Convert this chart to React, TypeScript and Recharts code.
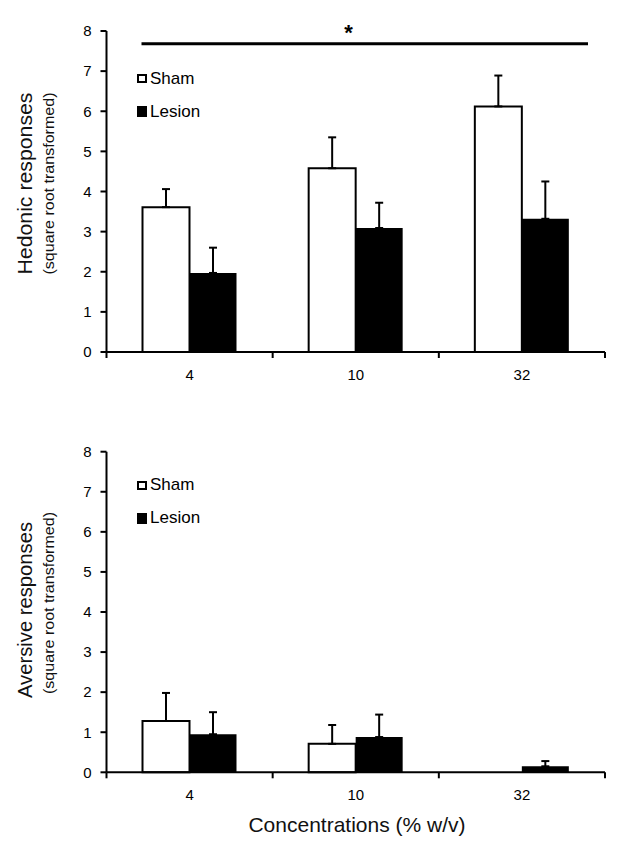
import React from 'react';
import { BarChart, Bar, XAxis, YAxis, ErrorBar, ReferenceLine, Legend } from 'recharts';

const CATEGORIES = ['4', '10', '32'];
const Y_TICKS = [0, 1, 2, 3, 4, 5, 6, 7, 8];
const SERIES_NAMES = ['Sham', 'Lesion'];

const HEDONIC_SHAM = [3.61, 4.58, 6.12];
const HEDONIC_SHAM_SEM = [0.45, 0.77, 0.77];
const HEDONIC_LESION = [1.97, 3.09, 3.32];
const HEDONIC_LESION_SEM = [0.63, 0.63, 0.93];

const AVERSIVE_SHAM = [1.28, 0.71, 0];
const AVERSIVE_SHAM_SEM = [0.7, 0.47, 0];
const AVERSIVE_LESION = [0.95, 0.88, 0.15];
const AVERSIVE_LESION_SEM = [0.55, 0.56, 0.13];

const SIGNIFICANCE_Y = 7.68;
const SIGNIFICANCE_MARK = '*';
const Y_TITLES = ['Hedonic responses', 'Aversive responses'];
const Y_SUBTITLE = '(square root transformed)';
const X_TITLE = 'Concentrations (% w/v)';

const FONT = "'Liberation Sans', Arial, Helvetica, sans-serif";
const W = 618;
const BAND_HALF_FALLBACK = 83;

type Row = { conc: string; sham: number; shamErr: number[]; lesion: number; lesionErr: number[] };

const buildRows = (sham: number[], shamSem: number[], lesion: number[], lesionSem: number[]): Row[] =>
  CATEGORIES.map((c, i) => ({
    conc: c,
    sham: sham[i],
    shamErr: [0, shamSem[i]],
    lesion: lesion[i],
    lesionErr: [0, lesionSem[i]],
  }));

const HEDONIC_ROWS = buildRows(HEDONIC_SHAM, HEDONIC_SHAM_SEM, HEDONIC_LESION, HEDONIC_LESION_SEM);
const AVERSIVE_ROWS = buildRows(AVERSIVE_SHAM, AVERSIVE_SHAM_SEM, AVERSIVE_LESION, AVERSIVE_LESION_SEM);

const ConcTick = (props: any) => {
  const { x, y, payload, index, visibleTicksCount } = props;
  const half = payload && typeof payload.offset === 'number' && payload.offset > 0 ? payload.offset : BAND_HALF_FALLBACK;
  const last = index === (visibleTicksCount ?? CATEGORIES.length) - 1;
  return (
    <g>
      <line x1={x - half} y1={y} x2={x - half} y2={y + 6} stroke="#000" strokeWidth={2} />
      {last && <line x1={x + half} y1={y} x2={x + half} y2={y + 6} stroke="#000" strokeWidth={2} />}
      <text x={x} y={y + 28} textAnchor="middle" fontSize={15} fontFamily={FONT} fill="#000">
        {payload.value}
      </text>
    </g>
  );
};

const LegendContent = () => (
  <div style={{ fontFamily: FONT, fontSize: 17, color: '#000', position: 'relative', width: 90, height: 53 }}>
    <div style={{ position: 'absolute', left: 0, top: 0, height: 20, display: 'flex', alignItems: 'center' }}>
      <span
        style={{
          display: 'inline-block',
          width: 10,
          height: 9,
          border: '2px solid #000',
          boxSizing: 'border-box',
          background: '#fff',
          marginRight: 3,
        }}
      />
      <span>{SERIES_NAMES[0]}</span>
    </div>
    <div style={{ position: 'absolute', left: 0, top: 33, height: 20, display: 'flex', alignItems: 'center' }}>
      <span
        style={{
          display: 'inline-block',
          width: 10,
          height: 11,
          background: '#000',
          marginRight: 3,
        }}
      />
      <span>{SERIES_NAMES[1]}</span>
    </div>
  </div>
);

const SigShape = (props: any) => {
  const { x1, x2, y1 } = props;
  if (typeof x1 !== 'number') return null;
  return (
    <g>
      <line x1={x1 + 35} y1={y1} x2={x2 - 17} y2={y1} stroke="#000" strokeWidth={3} />
      <text x={x1 + 242} y={y1 - 4} textAnchor="middle" fontSize={22} fontWeight="bold" fontFamily={FONT} fill="#000">
        {SIGNIFICANCE_MARK}
      </text>
    </g>
  );
};

type PanelProps = {
  rows: Row[];
  height: number;
  marginTop: number;
  marginBottom: number;
  title: string;
  titleCenter: number;
  titleLength: number;
  subCenter: number;
  legendTop: number;
  significance?: boolean;
  xTitle?: boolean;
};

const Panel = ({
  rows,
  height,
  marginTop,
  marginBottom,
  title,
  titleCenter,
  titleLength,
  subCenter,
  legendTop,
  significance,
  xTitle,
}: PanelProps) => (
  <BarChart
    width={W}
    height={height}
    data={rows}
    margin={{ top: marginTop, right: 13, bottom: marginBottom, left: 0 }}
    barGap={0}
    barSize={47}
  >
    <YAxis
      type="number"
      domain={[0, 8]}
      ticks={Y_TICKS}
      interval={0}
      width={106.5}
      axisLine={{ stroke: '#000', strokeWidth: 2 }}
      tickLine={{ stroke: '#000', strokeWidth: 2 }}
      tickSize={6}
      tickMargin={9}
      tick={{ fill: '#000', fontSize: 15, fontFamily: FONT }}
    />
    <XAxis
      dataKey="conc"
      type="category"
      height={30}
      interval={0}
      axisLine={{ stroke: '#000', strokeWidth: 2 }}
      tickLine={false}
      tickSize={0}
      tickMargin={0}
      tick={(p: any) => <ConcTick {...p} />}
    />
    <Legend
      layout="vertical"
      align="center"
      verticalAlign="middle"
      content={() => <LegendContent />}
      wrapperStyle={{ left: 137, top: legendTop, width: 90, height: 53 }}
    />
    {significance && (
      <ReferenceLine y={SIGNIFICANCE_Y} ifOverflow="extendDomain" shape={(p: any) => <SigShape {...p} />} />
    )}
    <Bar dataKey="sham" name={SERIES_NAMES[0]} fill="#fff" stroke="#000" strokeWidth={2} isAnimationActive={false}>
      <ErrorBar dataKey="shamErr" direction="y" width={4} stroke="#000" strokeWidth={2} isAnimationActive={false} />
    </Bar>
    <Bar dataKey="lesion" name={SERIES_NAMES[1]} fill="#000" isAnimationActive={false}>
      <ErrorBar dataKey="lesionErr" direction="y" width={4} stroke="#000" strokeWidth={2} isAnimationActive={false} />
    </Bar>
    <text
      x={31.7}
      y={titleCenter}
      transform={`rotate(-90 31.7 ${titleCenter})`}
      textAnchor="middle"
      fontSize={19.5}
      fontFamily={FONT}
      fill="#111"
      textLength={titleLength}
      lengthAdjust="spacingAndGlyphs"
    >
      {title}
    </text>
    <text
      x={53.5}
      y={subCenter}
      transform={`rotate(-90 53.5 ${subCenter})`}
      textAnchor="middle"
      fontSize={14}
      fontFamily={FONT}
      fill="#111"
      textLength={182}
      lengthAdjust="spacingAndGlyphs"
    >
      {Y_SUBTITLE}
    </text>
    {xTitle && (
      <text x={357} y={412} textAnchor="middle" fontSize={21} fontFamily={FONT} fill="#111">
        {X_TITLE}
      </text>
    )}
  </BarChart>
);

export default function App() {
  return (
    <div style={{ position: 'absolute', left: 0, top: 0, width: W, height: 850, background: '#fff' }}>
      <div style={{ position: 'absolute', left: 0, top: 0 }}>
        <Panel
          rows={HEDONIC_ROWS}
          height={410}
          marginTop={31}
          marginBottom={28}
          title={Y_TITLES[0]}
          titleCenter={183.5}
          titleLength={182}
          subCenter={183.5}
          legendTop={68.5}
          significance
        />
      </div>
      <div style={{ position: 'absolute', left: 0, top: 420 }}>
        <Panel
          rows={AVERSIVE_ROWS}
          height={430}
          marginTop={31.7}
          marginBottom={47.7}
          title={Y_TITLES[1]}
          titleCenter={190}
          titleLength={176}
          subCenter={183}
          legendTop={55}
          xTitle
        />
      </div>
    </div>
  );
}
